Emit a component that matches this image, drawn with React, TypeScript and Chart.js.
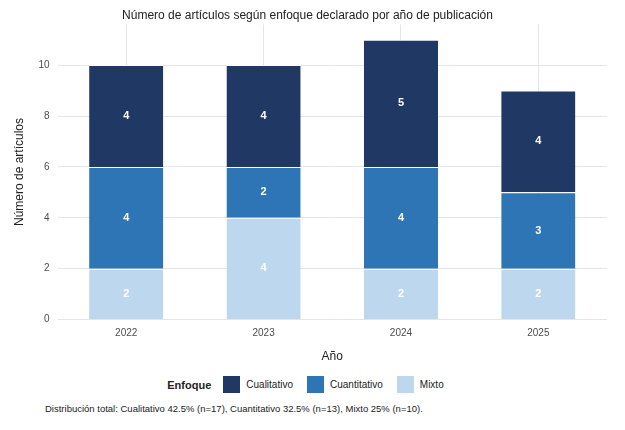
import React, { useEffect, useRef } from "react";
import { Chart, registerables } from "chart.js";
Chart.register(...registerables);

const years = ["2022", "2023", "2024", "2025"];
const cualitativo = [4, 4, 5, 4];
const cuantitativo = [4, 2, 4, 3];
const mixto = [2, 4, 2, 2];
const yTicks = [0, 2, 4, 6, 8, 10];
const colors = { Cualitativo: "#1f3864", Cuantitativo: "#2e75b6", Mixto: "#bdd7ee" };
const caption = "Distribución total: Cualitativo 42.5% (n=17), Cuantitativo 32.5% (n=13), Mixto 25% (n=10).";

const font = "'Liberation Sans', Arial, sans-serif";

export default function App() {
  const ref = useRef<HTMLCanvasElement>(null);
  useEffect(() => {
    const labelPlugin = {
      id: "labels",
      afterDatasetsDraw(chart: any) {
        const ctx = chart.ctx;
        chart.data.datasets.forEach((ds: any, i: number) => {
          const meta = chart.getDatasetMeta(i);
          meta.data.forEach((bar: any, j: number) => {
            ctx.save();
            ctx.fillStyle = "#ffffff";
            ctx.font = `bold 11px ${font}`;
            ctx.textAlign = "center";
            ctx.textBaseline = "middle";
            ctx.fillText(String(ds.data[j]), bar.x, (bar.y + bar.base) / 2);
            ctx.restore();
          });
        });
      },
    };
    const mk = (label: string, data: number[]) => ({
      label, data, backgroundColor: (colors as any)[label], borderColor: "#ffffff", borderWidth: { top: 1 },
      barPercentage: 0.54, categoryPercentage: 1,
    });
    const chart = new Chart(ref.current!, {
      type: "bar",
      data: { labels: years, datasets: [mk("Mixto", mixto), mk("Cuantitativo", cuantitativo), mk("Cualitativo", cualitativo)] },
      options: {
        animation: false, responsive: false, maintainAspectRatio: false,
        layout: { padding: { left: 0, right: 10, top: 0 } },
        plugins: {
          legend: { display: false }, tooltip: { enabled: false },
          title: { display: true, text: "Número de artículos según enfoque declarado por año de publicación", color: "#222", font: { family: font, size: 12, weight: "normal" }, padding: { top: 0, bottom: 2 } },
        },
        scales: {
          x: { stacked: true, grid: { color: "#e5e5e5", offset: false, drawTicks: false }, border: { display: false }, ticks: { color: "#4d4d4d", padding: 8, font: { family: font, size: 10 } },
            title: { display: true, text: "Año", color: "#222", font: { family: font, size: 12 }, padding: { top: 2 } } },
          y: { stacked: true, min: 0, max: 11.6, afterBuildTicks: (ax: any) => { ax.ticks = yTicks.map((v) => ({ value: v })); },
            grid: { color: "#e5e5e5", drawTicks: false }, border: { display: false }, ticks: { color: "#4d4d4d", padding: 8, font: { family: font, size: 10 } },
            title: { display: true, text: "Número de artículos", color: "#222", font: { family: font, size: 12 } } },
        },
      },
      plugins: [labelPlugin],
    } as any);
    return () => chart.destroy();
  }, []);
  const items = ["Cualitativo", "Cuantitativo", "Mixto"];
  return (
    <div style={{ width: 609, fontFamily: font }}>
      <canvas ref={ref} width={609} height={360} />
      <div style={{ display: "flex", justifyContent: "center", alignItems: "center", marginTop: 8, fontSize: 10, color: "#222" }}>
        <b style={{ fontSize: 11, marginRight: 12 }}>Enfoque</b>
        {items.map((k) => (
          <span key={k} style={{ display: "flex", alignItems: "center", marginRight: 14 }}>
            <span style={{ width: 17, height: 17, background: (colors as any)[k], marginRight: 6, display: "inline-block" }} />
            {k}
          </span>
        ))}
      </div>
      <div style={{ fontSize: 9.5, color: "#222", marginTop: 10, marginLeft: 37 }}>{caption}</div>
    </div>
  );
}
